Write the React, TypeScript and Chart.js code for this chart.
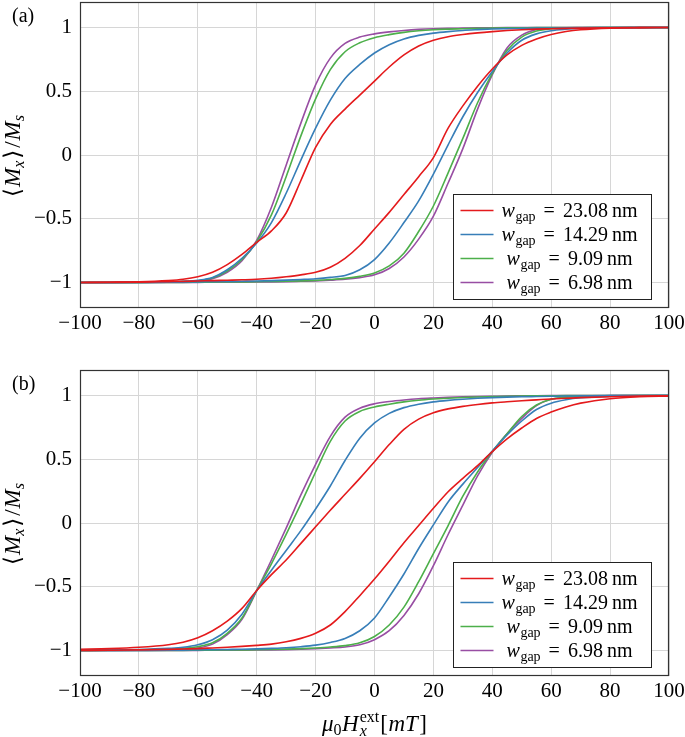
import React, { useEffect, useRef } from "react";
import { Chart, registerables } from "chart.js";

Chart.register(...registerables);

// ---------- data ----------
const fieldValues = [-100, -90, -80, -70, -65, -60, -55, -50, -45, -40, -35, -30, -25, -20, -15, -10, -5, 0, 5, 10, 15, 20, 25, 30, 35, 40, 45, 50, 55, 60, 65, 70, 80, 90, 100];
const xTickValues = [-100, -80, -60, -40, -20, 0, 20, 40, 60, 80, 100];
const yTickValues = [-1, -0.5, 0, 0.5, 1];
const gapLabels = ["23.08", "14.29", "9.09", "6.98"];
const seriesColors = ["#e41a1c", "#377eb8", "#4daf4a", "#984ea3"];

// panel (a): descending branch (coming from +1) and ascending branch (coming from -1)
const redADown = [-1.0, -0.998, -0.995, -0.985, -0.975, -0.955, -0.92, -0.86, -0.78, -0.685, -0.595, -0.455, -0.2, 0.06, 0.24, 0.36, 0.47, 0.58, 0.69, 0.785, 0.855, 0.9, 0.928, 0.945, 0.958, 0.968, 0.976, 0.982, 0.987, 0.99, 0.993, 0.995, 0.998, 0.999, 1.0];
const blueADown = [-1.0, -1.0, -0.998, -0.994, -0.99, -0.982, -0.96, -0.9, -0.81, -0.69, -0.53, -0.3, -0.04, 0.21, 0.43, 0.6, 0.71, 0.8, 0.865, 0.91, 0.938, 0.956, 0.968, 0.977, 0.983, 0.988, 0.991, 0.993, 0.995, 0.996, 0.997, 0.998, 0.999, 1.0, 1.0];
const greenADown = [-1.0, -1.0, -0.999, -0.996, -0.993, -0.986, -0.965, -0.91, -0.82, -0.68, -0.47, -0.17, 0.15, 0.44, 0.67, 0.81, 0.88, 0.92, 0.944, 0.962, 0.974, 0.982, 0.987, 0.99, 0.993, 0.995, 0.997, 0.998, 0.999, 0.999, 1.0, 1.0, 1.0, 1.0, 1.0];
const purpleADown = [-1.0, -1.0, -0.999, -0.997, -0.995, -0.99, -0.97, -0.92, -0.83, -0.67, -0.41, -0.08, 0.25, 0.55, 0.76, 0.875, 0.925, 0.95, 0.966, 0.977, 0.985, 0.99, 0.993, 0.995, 0.997, 0.998, 0.999, 1.0, 1.0, 1.0, 1.0, 1.0, 1.0, 1.0, 1.0];
const redAUp = [-1.0, -0.999, -0.997, -0.993, -0.991, -0.988, -0.985, -0.982, -0.979, -0.975, -0.967, -0.955, -0.94, -0.92, -0.88, -0.81, -0.71, -0.58, -0.45, -0.31, -0.17, -0.02, 0.21, 0.385, 0.54, 0.675, 0.785, 0.86, 0.91, 0.945, 0.968, 0.982, 0.995, 0.999, 1.0];
const blueAUp = [-1.0, -1.0, -0.999, -0.998, -0.997, -0.995, -0.994, -0.992, -0.99, -0.988, -0.985, -0.981, -0.976, -0.97, -0.96, -0.945, -0.9, -0.82, -0.69, -0.53, -0.36, -0.15, 0.08, 0.3, 0.49, 0.655, 0.8, 0.9, 0.95, 0.975, 0.986, 0.992, 0.997, 0.999, 1.0];
const greenAUp = [-1.0, -1.0, -1.0, -0.999, -0.999, -0.998, -0.997, -0.996, -0.995, -0.994, -0.992, -0.99, -0.987, -0.983, -0.977, -0.968, -0.952, -0.925, -0.87, -0.77, -0.6, -0.4, -0.14, 0.13, 0.41, 0.64, 0.82, 0.925, 0.972, 0.99, 0.995, 0.998, 1.0, 1.0, 1.0];
const purpleAUp = [-1.0, -1.0, -1.0, -1.0, -0.999, -0.999, -0.998, -0.998, -0.997, -0.996, -0.995, -0.993, -0.99, -0.987, -0.982, -0.975, -0.962, -0.94, -0.89, -0.8, -0.66, -0.48, -0.22, 0.05, 0.36, 0.63, 0.84, 0.94, 0.985, 0.995, 0.998, 0.999, 1.0, 1.0, 1.0];

// panel (b)
const redBDown = [-0.99, -0.985, -0.975, -0.955, -0.935, -0.9, -0.845, -0.77, -0.67, -0.53, -0.405, -0.29, -0.16, -0.03, 0.1, 0.225, 0.35, 0.48, 0.615, 0.735, 0.815, 0.865, 0.895, 0.915, 0.93, 0.942, 0.951, 0.959, 0.966, 0.973, 0.978, 0.983, 0.99, 0.995, 0.998];
const blueBDown = [-0.998, -0.996, -0.992, -0.983, -0.975, -0.955, -0.915, -0.84, -0.715, -0.53, -0.37, -0.215, -0.06, 0.11, 0.29, 0.49, 0.665, 0.785, 0.86, 0.905, 0.932, 0.95, 0.962, 0.971, 0.978, 0.983, 0.987, 0.99, 0.992, 0.994, 0.996, 0.997, 0.999, 1.0, 1.0];
const greenBDown = [-0.999, -0.998, -0.995, -0.988, -0.982, -0.97, -0.94, -0.865, -0.745, -0.53, -0.32, -0.09, 0.15, 0.4, 0.64, 0.8, 0.875, 0.91, 0.932, 0.95, 0.963, 0.972, 0.979, 0.984, 0.988, 0.991, 0.994, 0.996, 0.997, 0.998, 0.999, 0.999, 1.0, 1.0, 1.0];
const purpleBDown = [-1.0, -0.999, -0.997, -0.992, -0.988, -0.98, -0.95, -0.875, -0.755, -0.53, -0.29, -0.04, 0.22, 0.46, 0.68, 0.83, 0.9, 0.935, 0.953, 0.965, 0.974, 0.98, 0.985, 0.989, 0.992, 0.994, 0.996, 0.997, 0.998, 0.999, 1.0, 1.0, 1.0, 1.0, 1.0];
const redBUp = [-1.0, -0.998, -0.995, -0.991, -0.988, -0.985, -0.98, -0.975, -0.968, -0.96, -0.95, -0.932, -0.905, -0.865, -0.8, -0.695, -0.57, -0.44, -0.3, -0.155, -0.02, 0.115, 0.245, 0.35, 0.45, 0.56, 0.66, 0.745, 0.82, 0.87, 0.91, 0.94, 0.975, 0.99, 0.995];
const blueBUp = [-1.0, -1.0, -0.999, -0.998, -0.997, -0.995, -0.994, -0.992, -0.99, -0.987, -0.983, -0.978, -0.97, -0.958, -0.937, -0.905, -0.845, -0.745, -0.58, -0.4, -0.2, -0.015, 0.165, 0.305, 0.435, 0.565, 0.69, 0.8, 0.89, 0.94, 0.967, 0.982, 0.994, 0.998, 1.0];
const greenBUp = [-1.0, -1.0, -1.0, -0.999, -0.999, -0.998, -0.997, -0.996, -0.995, -0.994, -0.992, -0.989, -0.985, -0.98, -0.973, -0.962, -0.94, -0.89, -0.8, -0.66, -0.46, -0.24, -0.02, 0.21, 0.4, 0.56, 0.7, 0.835, 0.925, 0.97, 0.986, 0.994, 0.998, 1.0, 1.0];
const purpleBUp = [-1.0, -1.0, -1.0, -1.0, -0.999, -0.999, -0.998, -0.998, -0.997, -0.996, -0.995, -0.993, -0.99, -0.986, -0.98, -0.972, -0.955, -0.915, -0.845, -0.725, -0.555, -0.335, -0.09, 0.14, 0.37, 0.555, 0.7, 0.82, 0.92, 0.97, 0.988, 0.995, 0.999, 1.0, 1.0];

// ---------- text helpers ----------
const SERIF = '"Liberation Serif", "DejaVu Serif", serif';
const rm = (s: number) => `${s}px ${SERIF}`;
const it = (s: number) => `italic ${s}px ${SERIF}`;

type Seg = { t: string; font: string; dy?: number; keep?: boolean; gap?: number };

function richWidth(ctx: CanvasRenderingContext2D, segs: Seg[]) {
  let w = 0;
  let pending = 0;
  segs.forEach((s) => {
    ctx.font = s.font;
    const sw = ctx.measureText(s.t).width;
    if (s.keep) {
      pending = sw;
    } else {
      w += Math.max(sw, pending) + (s.gap || 0);
      pending = 0;
    }
  });
  return w;
}

function drawRich(ctx: CanvasRenderingContext2D, segs: Seg[], cx: number, y: number) {
  const total = richWidth(ctx, segs);
  let x = cx - total / 2;
  let pending = 0;
  ctx.textAlign = "left";
  ctx.textBaseline = "alphabetic";
  segs.forEach((s) => {
    ctx.font = s.font;
    const sw = ctx.measureText(s.t).width;
    ctx.fillText(s.t, x, y + (s.dy || 0));
    if (s.keep) {
      pending = sw;
    } else {
      x += Math.max(sw, pending) + (s.gap || 0);
      pending = 0;
    }
  });
}

function fmt(v: number) {
  const s = String(Math.abs(v));
  return v < 0 ? "\u2212" + s : s;
}

function makeDecor(panelLabel: string, withXTitle: boolean) {
  return {
    id: "decor" + panelLabel,
    afterDraw(chart: any) {
      const ctx: CanvasRenderingContext2D = chart.ctx;
      const a = chart.chartArea;
      ctx.save();
      // frame
      const L = Math.round(a.left) + 0.5;
      const T = Math.round(a.top) + 0.5;
      const R = Math.round(a.right) - 0.5;
      const B = Math.round(a.bottom) - 0.5;
      ctx.strokeStyle = "#333";
      ctx.lineWidth = 1.2;
      ctx.strokeRect(L, T, R - L, B - T);

      // legend
      const bw = 198;
      const bh = 105;
      const bx = Math.round(a.right - 18 - bw) + 0.5;
      const by = Math.round(a.bottom - 9 - bh) + 0.5;
      ctx.fillStyle = "#fff";
      ctx.fillRect(bx, by, bw, bh);
      ctx.strokeStyle = "#222";
      ctx.lineWidth = 1;
      ctx.strokeRect(bx, by, bw, bh);
      gapLabels.forEach((lab, i) => {
        const cy = by + 16 + i * 24;
        ctx.strokeStyle = seriesColors[i];
        ctx.lineWidth = 1.6;
        ctx.beginPath();
        ctx.moveTo(bx + 7, cy);
        ctx.lineTo(bx + 40, cy);
        ctx.stroke();
        ctx.fillStyle = "#000";
        drawRich(
          ctx,
          [
            { t: "w", font: it(20), gap: 0.5 },
            { t: "gap", font: rm(14), dy: 4, gap: 8 },
            { t: "=", font: rm(20), gap: 8 },
            { t: lab, font: rm(20), gap: 4 },
            { t: "nm", font: rm(20) },
          ],
          bx + 116,
          cy + 6.5
        );
      });

      ctx.fillStyle = "#000";
      // panel label
      ctx.font = rm(20);
      ctx.textAlign = "left";
      ctx.textBaseline = "alphabetic";
      ctx.fillText(panelLabel, 12, a.top + 20);

      // y title
      ctx.save();
      ctx.translate(20, (a.top + a.bottom) / 2 + 1);
      ctx.rotate(-Math.PI / 2);
      drawRich(
        ctx,
        [
          { t: "\u27E8", font: rm(23), gap: 1 },
          { t: "M", font: it(23), gap: 0 },
          { t: "x", font: it(16), dy: 4, gap: 2 },
          { t: "\u27E9", font: rm(23), gap: 2 },
          { t: "/", font: rm(23), gap: 1 },
          { t: "M", font: it(23), gap: 0 },
          { t: "s", font: it(16), dy: 4 },
        ],
        0,
        0
      );
      ctx.restore();

      // x title
      if (withXTitle) {
        drawRich(
          ctx,
          [
            { t: "\u03BC", font: it(23) },
            { t: "0", font: rm(16), dy: 4, gap: 0.5 },
            { t: "H", font: it(23), gap: 1 },
            { t: "ext", font: rm(16), dy: -9, keep: true },
            { t: "x", font: it(16), dy: 5, gap: 1 },
            { t: "[", font: rm(23), gap: 0.5 },
            { t: "mT", font: it(23), gap: 1.5 },
            { t: "]", font: rm(23) },
          ],
          (a.left + a.right) / 2,
          chart.height - 6
        );
      }
      ctx.restore();
    },
  };
}

type PanelProps = {
  label: string;
  down: number[][];
  up: number[][];
  top: number;
  height: number;
  padTop: number;
  xAxisHeight: number;
  withXTitle: boolean;
};

function Panel({ label, down, up, top, height, padTop, xAxisHeight, withXTitle }: PanelProps) {
  const ref = useRef<HTMLCanvasElement | null>(null);
  useEffect(() => {
    const canvas = ref.current;
    if (!canvas) return;
    const datasets: any[] = [];
    for (let i = 0; i < 4; i++) {
      [down[i], up[i]].forEach((branch) => {
        datasets.push({
          data: fieldValues.map((h, k) => ({ x: h, y: branch[k] })),
          borderColor: seriesColors[i],
          backgroundColor: seriesColors[i],
          borderWidth: 1.6,
          pointRadius: 0,
          showLine: true,
          fill: false,
          cubicInterpolationMode: "monotone",
        });
      });
    }
    const tickFont = { family: SERIF, size: 21 };
    const chart = new Chart(canvas, {
      type: "scatter",
      data: { datasets },
      options: {
        responsive: false,
        maintainAspectRatio: false,
        animation: false,
        devicePixelRatio: 1,
        events: [],
        layout: { padding: { top: padTop, right: 16, bottom: 0, left: 0 } },
        plugins: { legend: { display: false }, tooltip: { enabled: false } },
        scales: {
          x: {
            type: "linear",
            min: -100,
            max: 100,
            afterBuildTicks: (s: any) => {
              s.ticks = xTickValues.map((v) => ({ value: v }));
            },
            afterFit: (s: any) => {
              s.height = xAxisHeight;
              s.paddingLeft = 0;
              s.paddingRight = 0;
            },
            grid: { color: "#d6d6d6", lineWidth: 1, drawTicks: false },
            border: { display: false },
            ticks: {
              padding: 3,
              color: "#000",
              font: tickFont,
              maxRotation: 0,
              autoSkip: false,
              callback: (v: any) => fmt(Number(v)),
            },
          },
          y: {
            type: "linear",
            min: -1.2,
            max: 1.2,
            afterBuildTicks: (s: any) => {
              s.ticks = yTickValues.map((v) => ({ value: v }));
            },
            afterFit: (s: any) => {
              s.width = 80;
              s.paddingTop = 0;
              s.paddingBottom = 0;
            },
            grid: { color: "#d6d6d6", lineWidth: 1, drawTicks: false },
            border: { display: false },
            ticks: {
              padding: 8,
              color: "#000",
              font: tickFont,
              autoSkip: false,
              callback: (v: any) => fmt(Number(v)),
            },
          },
        },
      } as any,
      plugins: [makeDecor(label, withXTitle)],
    });
    return () => chart.destroy();
  }, []);
  return (
    <canvas
      ref={ref}
      width={685}
      height={height}
      style={{ position: "absolute", left: 0, top, width: 685, height, display: "block" }}
    />
  );
}

export default function App() {
  return (
    <div style={{ position: "absolute", left: 0, top: 0, width: 685, height: 737, background: "#fff", overflow: "hidden" }}>
      <Panel
        label="(a)"
        down={[redADown, blueADown, greenADown, purpleADown]}
        up={[redAUp, blueAUp, greenAUp, purpleAUp]}
        top={0}
        height={345}
        padTop={2}
        xAxisHeight={37}
        withXTitle={false}
      />
      <Panel
        label="(b)"
        down={[redBDown, blueBDown, greenBDown, purpleBDown]}
        up={[redBUp, blueBUp, greenBUp, purpleBUp]}
        top={345}
        height={392}
        padTop={25}
        xAxisHeight={61}
        withXTitle={true}
      />
    </div>
  );
}
